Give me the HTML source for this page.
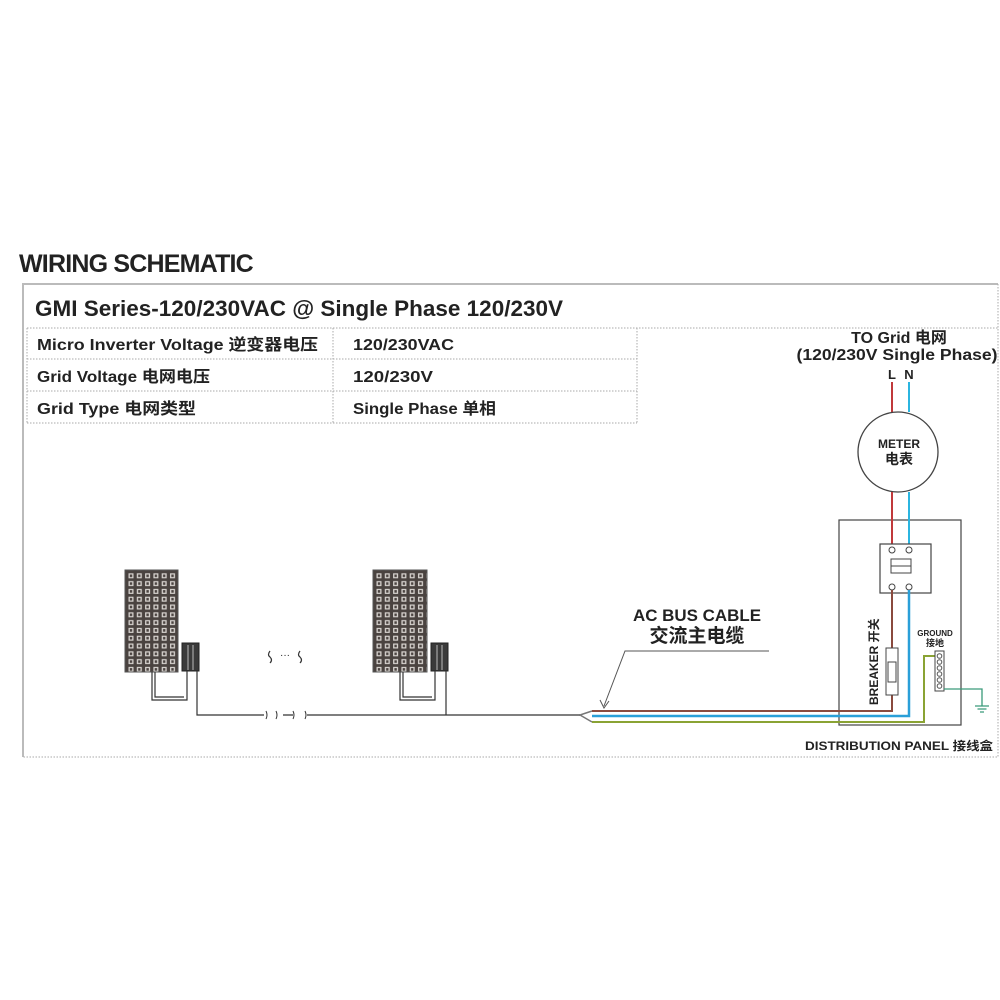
<!DOCTYPE html>
<html><head><meta charset="utf-8"><style>
html,body{margin:0;padding:0;background:#fff;width:1000px;height:1000px;overflow:hidden}
svg text{font-family:"Liberation Sans","Noto Sans CJK SC",sans-serif;fill:#222}
</style></head><body>
<svg width="1000" height="1000" viewBox="0 0 1000 1000" xmlns="http://www.w3.org/2000/svg">
<defs>
<pattern id="cells" x="127" y="572" width="8.3" height="7.8" patternUnits="userSpaceOnUse">
<rect width="8.3" height="7.8" fill="#4a4340"/>
<rect x="1.5" y="1.3" width="5" height="5" fill="#d8d4d0"/>
<rect x="2.8" y="2.5" width="2.4" height="2.6" fill="#4a4340"/>
</pattern>
<pattern id="cells2" x="375" y="572" width="8.3" height="7.8" patternUnits="userSpaceOnUse">
<rect width="8.3" height="7.8" fill="#4a4340"/>
<rect x="1.5" y="1.3" width="5" height="5" fill="#d8d4d0"/>
<rect x="2.8" y="2.5" width="2.4" height="2.6" fill="#4a4340"/>
</pattern>
</defs>
<text x="19" y="272" font-size="25" font-weight="bold" letter-spacing="-0.8" fill="#111">WIRING SCHEMATIC</text>
<path d="M23 757 V284 H998" fill="none" stroke="#bbb" stroke-width="2"/>
<path d="M998 284 V757 H23" fill="none" stroke="#aaa" stroke-width="1" stroke-dasharray="1.5,1.5"/>
<text x="35" y="316" font-size="22" font-weight="bold" fill="#222" textLength="528" lengthAdjust="spacingAndGlyphs">GMI Series-120/230VAC @ Single Phase 120/230V</text>
<g stroke="#aaa" stroke-width="1" stroke-dasharray="1.5,1.5" fill="none">
<path d="M27 328 H998 M27 359 H637 M27 391 H637 M27 423 H637 M27 328 V423 M333 328 V423 M637 328 V423"/>
</g>
<g font-size="16" font-weight="bold">
<text x="37" y="350" textLength="281" lengthAdjust="spacingAndGlyphs">Micro Inverter Voltage 逆变器电压</text>
<text x="353" y="350" textLength="101" lengthAdjust="spacingAndGlyphs">120/230VAC</text>
<text x="37" y="382" textLength="173" lengthAdjust="spacingAndGlyphs">Grid  Voltage 电网电压</text>
<text x="353" y="382" textLength="80" lengthAdjust="spacingAndGlyphs">120/230V</text>
<text x="37" y="414" textLength="159" lengthAdjust="spacingAndGlyphs">Grid Type 电网类型</text>
<text x="353" y="414" textLength="143" lengthAdjust="spacingAndGlyphs">Single Phase 单相</text>
</g>
<text x="899" y="343" font-size="16" font-weight="bold" text-anchor="middle">TO Grid 电网</text>
<text x="897" y="360" font-size="16" font-weight="bold" text-anchor="middle" textLength="201" lengthAdjust="spacingAndGlyphs">(120/230V Single Phase)</text>
<text x="892" y="379" font-size="13" font-weight="bold" text-anchor="middle">L</text>
<text x="909" y="379" font-size="13" font-weight="bold" text-anchor="middle">N</text>
<line x1="892" y1="382" x2="892" y2="412" stroke="#c0393b" stroke-width="2"/>
<line x1="909" y1="382" x2="909" y2="412" stroke="#2bb5e0" stroke-width="2"/>
<circle cx="898" cy="452" r="40" fill="#fff" stroke="#444" stroke-width="1.3"/>
<text x="899" y="448" font-size="12" font-weight="bold" text-anchor="middle">METER</text>
<text x="899" y="464" font-size="14" font-weight="bold" text-anchor="middle">电表</text>
<rect x="839" y="520" width="122" height="205" fill="none" stroke="#444" stroke-width="1.2"/>
<line x1="892" y1="492" x2="892" y2="544" stroke="#c0393b" stroke-width="2"/>
<line x1="909" y1="492" x2="909" y2="544" stroke="#2bb5e0" stroke-width="2"/>
<rect x="880" y="544" width="51" height="49" fill="#fff" stroke="#444" stroke-width="1.2"/>
<circle cx="892" cy="550" r="3" fill="#fff" stroke="#444"/>
<circle cx="909" cy="550" r="3" fill="#fff" stroke="#444"/>
<circle cx="892" cy="587" r="3" fill="#fff" stroke="#444"/>
<circle cx="909" cy="587" r="3" fill="#fff" stroke="#444"/>
<rect x="891" y="559" width="20" height="14" fill="none" stroke="#444"/>
<line x1="891" y1="566" x2="911" y2="566" stroke="#444"/>
<path d="M592 711 H892 V590" fill="none" stroke="#8a4a3e" stroke-width="2"/>
<path d="M592 716 H909 V590" fill="none" stroke="#2a9fd8" stroke-width="2.5"/>
<path d="M592 722 H924 V656 H935" fill="none" stroke="#8aa334" stroke-width="2"/>
<path d="M580 715 L592 711 M580 715 L592 722" stroke="#777" stroke-width="1.5" fill="none"/>
<rect x="886" y="648" width="12" height="47" fill="#fff" stroke="#444"/>
<rect x="888" y="662" width="8" height="20" fill="none" stroke="#444"/>
<rect x="935" y="651" width="9" height="40" fill="#fff" stroke="#444"/>
<g fill="none" stroke="#555"><circle cx="939.5" cy="656" r="2.3"/><circle cx="939.5" cy="662" r="2.3"/><circle cx="939.5" cy="668" r="2.3"/><circle cx="939.5" cy="674" r="2.3"/><circle cx="939.5" cy="680" r="2.3"/><circle cx="939.5" cy="686" r="2.3"/></g>
<path d="M944 689 H982 V706" fill="none" stroke="#3a9a7a" stroke-width="1.3"/>
<path d="M975 706 H989 M977.5 709 H986.5 M980 712 H984" stroke="#3a9a7a" stroke-width="1.3"/>
<text x="935" y="636" font-size="8" font-weight="bold" text-anchor="middle">GROUND</text>
<text x="935" y="646" font-size="9" font-weight="bold" text-anchor="middle">接地</text>
<text transform="translate(878,705) rotate(-90)" font-size="12" font-weight="bold">BREAKER 开关</text>
<text x="805" y="750" font-size="12" font-weight="bold" textLength="188" lengthAdjust="spacingAndGlyphs">DISTRIBUTION PANEL 接线盒</text>
<text x="697" y="621" font-size="17" font-weight="bold" text-anchor="middle" textLength="128" lengthAdjust="spacingAndGlyphs">AC BUS CABLE</text>
<text x="697" y="642" font-size="19" font-weight="bold" text-anchor="middle">交流主电缆</text>
<path d="M769 651 H625 L604 706" fill="none" stroke="#555" stroke-width="1"/>
<path d="M600 700 L604 708 L609 701" fill="none" stroke="#555" stroke-width="1"/>
<rect x="125" y="570" width="53" height="102" fill="url(#cells)" stroke="#555"/>
<rect x="373" y="570" width="54" height="102" fill="url(#cells2)" stroke="#555"/>
<g fill="#3a3a3a" stroke="#222">
<rect x="182" y="643" width="17" height="28"/>
<rect x="431" y="643" width="17" height="28"/>
</g>
<g stroke="#ddd" stroke-width="0.8"><line x1="188" y1="645" x2="188" y2="670"/><line x1="193" y1="645" x2="193" y2="670"/><line x1="437" y1="645" x2="437" y2="670"/><line x1="442" y1="645" x2="442" y2="670"/></g>
<g fill="none" stroke="#333" stroke-width="1.2">
<path d="M152 672 V700 H187 V671 M155 672 V697 H184"/>
<path d="M400 672 V700 H435 V671 M403 672 V697 H432"/>
<path d="M197 671 V715 H264 M283 715 H293 M307 715 H580"/>
<path d="M446 671 V715"/>
</g>
<g fill="none" stroke="#333" stroke-width="1"><path d="M266 711 q2 4 0 8 M276 711 q2 4 0 8 M293 711 q2 4 0 8 M305 711 q2 4 0 8"/></g>
<path d="M270 651 q-3 4 0 6 q3 3 0 6 M300 651 q-3 4 0 6 q3 3 0 6" fill="none" stroke="#333" stroke-width="1.2"/>
<text x="285" y="658" font-size="10" text-anchor="middle">···</text>
</svg>
</body></html>
